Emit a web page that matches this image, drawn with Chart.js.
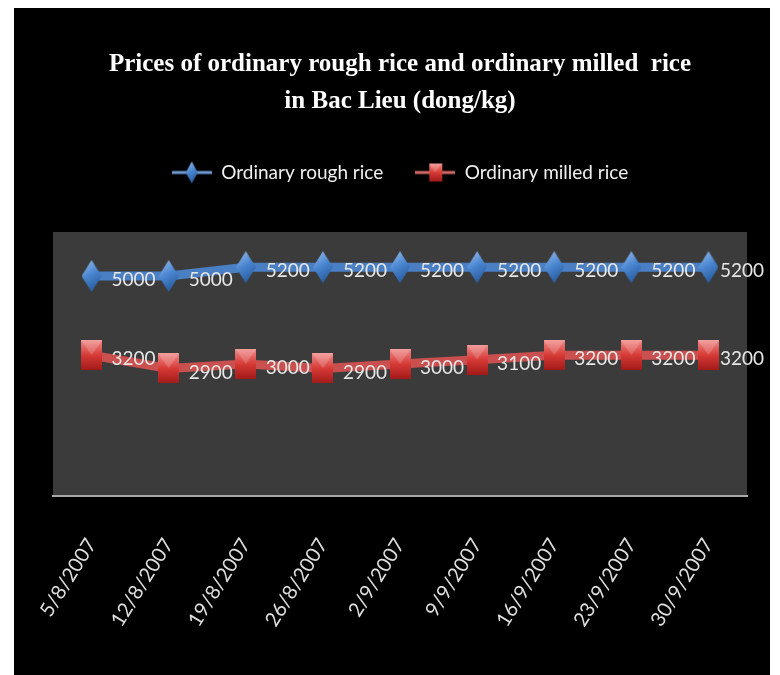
<!DOCTYPE html>
<html><head><meta charset="utf-8">
<script src="https://cdn.jsdelivr.net/npm/chart.js@4"></script>
<style>html,body{margin:0;padding:0;background:#fff;overflow:hidden}</style>
</head><body>
<canvas id="c" width="780" height="675"></canvas>
<script>
const categories = ['5/8/2007','12/8/2007','19/8/2007','26/8/2007','2/9/2007','9/9/2007','16/9/2007','23/9/2007','30/9/2007'];
const roughRice = [5000,5000,5200,5200,5200,5200,5200,5200,5200];
const milledRice = [3200,2900,3000,2900,3000,3100,3200,3200,3200];
const seriesNames = ['Ordinary rough rice','Ordinary milled rice'];
const titleLines = ['Prices of ordinary rough rice and ordinary milled  rice','in Bac Lieu (dong/kg)'];
const yMin = 0, yMax = 6000;

function makeDiamond(w, h) {
  const c = document.createElement('canvas'); c.width = w; c.height = h;
  const g = c.getContext('2d');
  const gr = g.createLinearGradient(0, 0, w, h);
  gr.addColorStop(0, '#9cc0ee'); gr.addColorStop(0.45, '#4a86d0'); gr.addColorStop(1, '#1f4f8f');
  g.fillStyle = gr;
  g.beginPath(); g.moveTo(w/2, 0); g.lineTo(w, h/2); g.lineTo(w/2, h); g.lineTo(0, h/2); g.closePath(); g.fill();
  return c;
}
function makeSquare(w, h) {
  const c = document.createElement('canvas'); c.width = w; c.height = h;
  const g = c.getContext('2d');
  const gr = g.createLinearGradient(0, 0, 0, h);
  gr.addColorStop(0, '#f08a88'); gr.addColorStop(0.5, '#d63a36'); gr.addColorStop(1, '#a11a18');
  g.fillStyle = gr; g.fillRect(0, 0, w, h);
  g.fillStyle = 'rgba(255,255,255,0.18)';
  g.beginPath(); g.moveTo(0,0); g.lineTo(w,0); g.lineTo(w/2,h/2); g.closePath(); g.fill();
  return c;
}
function makeLegendIcon(color, marker) {
  const c = document.createElement('canvas'); c.width = 40; c.height = 24;
  const g = c.getContext('2d');
  g.strokeStyle = color; g.lineWidth = 3;
  g.beginPath(); g.moveTo(0, 12); g.lineTo(40, 12); g.stroke();
  g.drawImage(marker, 20 - marker.width/2, 12 - marker.height/2);
  return c;
}
const blueMarker = makeDiamond(20, 32);
const redMarker = makeSquare(21, 30);
const legendIcons = [makeLegendIcon('#6f9bd3', makeDiamond(12, 22)), makeLegendIcon('#d46a67', makeSquare(13, 18))];

const bgPlugin = {
  id: 'bg',
  afterInit(chart) {
    const lg = chart.legend;
    if (lg && !lg._patched) {
      const orig = lg.fit;
      lg.fit = function () { orig.call(this); this.height += 40; };
      lg._patched = true;
    }
  },
  beforeDraw(chart) {
    const {ctx, chartArea: a} = chart;
    ctx.save();
    ctx.fillStyle = '#ffffff'; ctx.fillRect(0, 0, chart.width, chart.height);
    ctx.fillStyle = '#000000'; ctx.fillRect(14, 8, 756, 667);
    ctx.fillStyle = '#3b3b3b'; ctx.fillRect(a.left, a.top, a.right - a.left, a.bottom - a.top);
    ctx.restore();
  }
};
const labelPlugin = {
  id: 'valueLabels',
  afterDatasetsDraw(chart) {
    const {ctx} = chart;
    ctx.save();
    ctx.font = '19px Lato';
    ctx.fillStyle = '#e6e6e6';
    ctx.textAlign = 'left';
    ctx.textBaseline = 'middle';
    const maxRight = chart.width - 16;
    chart.data.datasets.forEach((ds, i) => {
      chart.getDatasetMeta(i).data.forEach((pt, j) => {
        const txt = String(ds.data[j]);
        const w = ctx.measureText(txt).width;
        const x = Math.min(pt.x + 20, maxRight - w);
        ctx.fillText(txt, x, pt.y + 4);
      });
    });
    ctx.restore();
  }
};

new Chart(document.getElementById('c'), {
  type: 'line',
  data: {
    labels: categories,
    datasets: [
      { label: seriesNames[0], data: roughRice, borderColor: '#4a7fc4', borderWidth: 9,
        pointStyle: blueMarker, pointRadius: 10, tension: 0 },
      { label: seriesNames[1], data: milledRice, borderColor: '#c9504e', borderWidth: 9,
        pointStyle: redMarker, pointRadius: 10, tension: 0 }
    ]
  },
  options: {
    responsive: false,
    animation: false,
    layout: { padding: { left: 53, right: 33, top: 8, bottom: 14 } },
    plugins: {
      tooltip: { enabled: false },
      title: {
        display: true, text: titleLines, color: '#ffffff',
        font: { family: 'Liberation Serif', size: 25, weight: 'bold', lineHeight: 1.48 },
        padding: { top: 38, bottom: 11 }
      },
      legend: {
        display: true,
        labels: {
          color: '#f0f0f0', font: { family: 'Lato', size: 19 },
          usePointStyle: true, pointStyleWidth: 40, padding: 32,
          generateLabels(chart) {
            const items = Chart.defaults.plugins.legend.labels.generateLabels(chart);
            items.forEach((it, i) => { it.pointStyle = legendIcons[i]; });
            return items;
          }
        }
      }
    },
    scales: {
      x: {
        offset: true,
        grid: { display: false },
        border: { display: true, color: '#a8a8a8', width: 2 },
        ticks: { color: '#dedede', font: { family: 'Lato', size: 20 }, minRotation: 58, maxRotation: 58, padding: 30 }
      },
      y: { display: false, min: yMin, max: yMax }
    }
  },
  plugins: [bgPlugin, labelPlugin]
});
</script>
</body></html>
